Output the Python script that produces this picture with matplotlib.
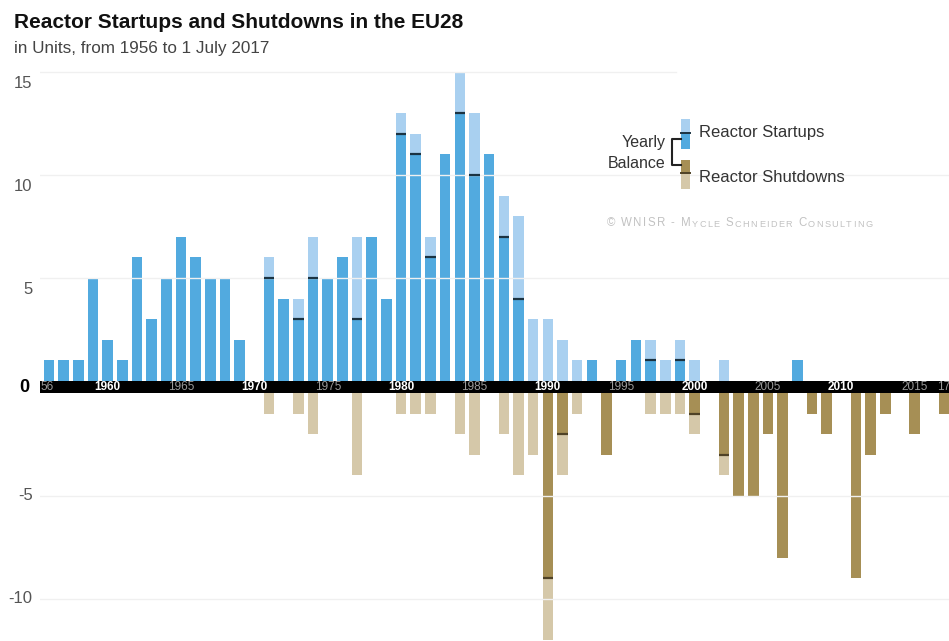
import matplotlib
matplotlib.use("Agg")
import matplotlib.pyplot as plt
from matplotlib.patches import Rectangle
import numpy as np

plt.rcParams["font.family"] = ["Liberation Sans", "DejaVu Sans"]

YEARS = list(range(1956, 2018))
STARTUPS = [1, 1, 1, 5, 2, 1, 6, 3, 5, 7, 6, 5, 5, 2, 0,
            6, 4, 4, 7, 5, 6, 7, 7, 4, 13, 12, 7, 11, 15, 13,
            11, 9, 8, 3, 3, 2, 1, 1, 0, 1, 2, 2, 1, 2, 1,
            0, 1, 0, 0, 0, 0, 1, 0, 0, 0, 0, 0, 0, 0, 0, 0, 0]
SHUTDOWNS = [0, 0, 0, 0, 0, 0, 0, 0, 0, 0, 0, 0, 0, 0, 0,
             1, 0, 1, 2, 0, 0, 4, 0, 0, 1, 1, 1, 0, 2, 3,
             0, 2, 4, 3, 12, 4, 1, 0, 3, 0, 0, 1, 1, 1, 2,
             0, 4, 5, 5, 2, 8, 0, 1, 2, 0, 9, 3, 1, 0, 2, 0, 1]
YTICKS = [15, 10, 5, 0, -5, -10]
CREDIT = "\u00a9 WNISR - Mycle Schneider Consulting"

BLUE, LBLUE, BLINE = "#52aadf", "#a9d0f0", "#1b3342"
TAN, LTAN, TLINE = "#a68f55", "#d5c8a9", "#4f4226"
H = 0.29          # half thickness of the zero band, in units
W = 0.72          # bar width

W_PX, H_PX = 949, 641
fig = plt.figure(figsize=(W_PX / 100, H_PX / 100), dpi=100)
ax = fig.add_axes([40 / W_PX, 0, (W_PX - 40) / W_PX, (H_PX - 60) / H_PX])
ax.set_xlim(1956 - 0.61, 2017 + 0.34)
ax.set_ylim(-(641 - 387) / 20.6, (387 - 60) / 20.6)
ax.axis("off")

yrs = np.array(YEARS)
s = np.array(STARTUPS, float)
d = np.array(SHUTDOWNS, float)
net = s - d
dark_up = np.clip(net, 0, None)
dark_dn = np.clip(-net, 0, None)

# light bar = full count, dark part = yearly balance
ax.bar(yrs, s, W, bottom=H, color=LBLUE, zorder=2, lw=0)
ax.bar(yrs, dark_up, W, bottom=H, color=BLUE, zorder=2, lw=0)
ax.bar(yrs, -d, W, bottom=-H, color=LTAN, zorder=2, lw=0)
ax.bar(yrs, -dark_dn, W, bottom=-H, color=TAN, zorder=2, lw=0)

for y, n, si, di in zip(yrs, net, s, d):
    if 0 < n < si:
        ax.hlines(H + n, y - W / 2, y + W / 2, color=BLINE, lw=1.6, zorder=4)
    if 0 < -n < di:
        ax.hlines(-H + n, y - W / 2, y + W / 2, color=TLINE, lw=1.6, zorder=4)

# faint grid, drawn over the bars
for v in YTICKS:
    if v == 0:
        continue
    yy = v + H if v > 0 else v - H
    xmax = 0.70 if v == 15 else 1.0
    ax.axhline(yy, xmax=xmax, color="#f0f0f0", lw=1.0, zorder=3)

# black zero band with year labels
ax.axhspan(-H, H, color="black", zorder=5, lw=0)
for y in range(1960, 2016, 5):
    bold = y % 10 == 0
    ax.text(y, 0, str(y), ha="center", va="center", fontsize=8.5,
            fontweight="bold" if bold else "normal",
            color="white" if bold else "#9a9a9a", zorder=6)
ax.text(1956 - 0.55, 0, "56", ha="left", va="center", fontsize=8.5,
        color="#9a9a9a", zorder=6)
ax.text(2017 - 0.45, 0, "17", ha="left", va="center", fontsize=8.5,
        color="#9a9a9a", zorder=6, clip_on=False)

# y tick labels (sit on the lower zero line)
for v in YTICKS:
    if v == 0:
        ax.text(-0.012, 0, "0", transform=ax.get_yaxis_transform(),
                ha="right", va="center", fontsize=13, fontweight="bold",
                color="black")
    else:
        ax.text(-0.008, v - H, str(v), transform=ax.get_yaxis_transform(),
                ha="right", va="center", fontsize=12, color="#555555")

# overlay in pixel units for titles and legend
lay = fig.add_axes([0, 0, 1, 1], zorder=10)
lay.set_xlim(0, W_PX)
lay.set_ylim(H_PX, 0)
lay.axis("off")
lay.patch.set_alpha(0)

lay.text(14, 28, "Reactor Startups and Shutdowns in the EU28", fontsize=15,
         fontweight="bold", color="#111111", va="baseline")
lay.text(14, 53, "in Units, from 1956 to 1 July 2017", fontsize=12.3,
         color="#444444", va="baseline")

# legend
lay.add_patch(Rectangle((681, 119), 9.5, 14, color=LBLUE, lw=0))
lay.add_patch(Rectangle((681, 133), 9.5, 16, color=BLUE, lw=0))
lay.plot([681, 690.5], [133, 133], color=BLINE, lw=1.4)
lay.add_patch(Rectangle((681, 160), 9.5, 13, color=TAN, lw=0))
lay.add_patch(Rectangle((681, 173), 9.5, 16, color=LTAN, lw=0))
lay.plot([681, 690.5], [173, 173], color=TLINE, lw=1.4)
lay.plot([681, 672, 672, 681], [139, 139, 165, 165], color="#222222", lw=1.5)
lay.text(699, 133, "Reactor Startups", fontsize=12, color="#333333",
         va="center")
lay.text(699, 178, "Reactor Shutdowns", fontsize=12, color="#333333",
         va="center")
lay.text(666, 142, "Yearly", fontsize=11.5, color="#333333",
         ha="right", va="center")
lay.text(666, 163, "Balance", fontsize=11.5, color="#333333",
         ha="right", va="center")

# credit line in letter-spaced small caps
prev, extra, first_of_word = None, 0.0, True
for ch in CREDIT:
    if ch == " ":
        extra += 3.2
        first_of_word = True
        continue
    big = first_of_word or ch.isupper() or not ch.isalpha()
    size = 8.3 if big else 6.6
    first_of_word = False
    if prev is None:
        prev = lay.text(607, 229, ch.upper(), fontsize=size, color="#c2c2c2",
                        va="bottom", ha="left")
    else:
        prev = lay.annotate(ch.upper(), xy=(1, 0), xycoords=prev,
                            xytext=(1.0 + extra, 0), textcoords="offset points",
                            fontsize=size, color="#c2c2c2",
                            va="bottom", ha="left")
    extra = 0.0

fig.savefig("out.png", dpi=100)
